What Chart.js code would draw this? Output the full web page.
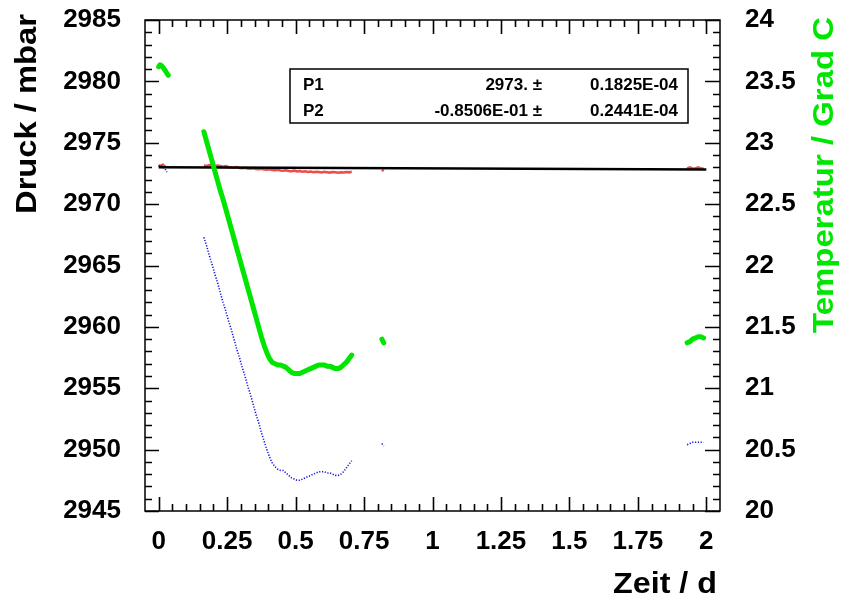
<!DOCTYPE html>
<html>
<head>
<meta charset="utf-8">
<script src="https://cdn.jsdelivr.net/npm/chart.js@4.4.1/dist/chart.umd.min.js"></script>
<style>
html,body{margin:0;padding:0;background:#fff;}
#wrap{width:845px;height:599px;}
</style>
</head>
<body>
<div id="wrap"><canvas id="c" width="845" height="599"></canvas></div>
<script>
// ---------- data ----------
const time = [
  0.000, 0.005, 0.010, 0.015, 0.020, 0.025, 0.030, 0.035,
  0.100,
  0.165, 0.175, 0.185, 0.195, 0.205, 0.215, 0.225, 0.235, 0.245, 0.255,
  0.265, 0.275, 0.285, 0.295, 0.305, 0.315, 0.325, 0.335, 0.345, 0.355,
  0.365, 0.375, 0.385, 0.395, 0.405, 0.415, 0.425, 0.435, 0.445, 0.455,
  0.465, 0.475, 0.485, 0.495, 0.505, 0.515, 0.525, 0.535, 0.545, 0.555,
  0.565, 0.575, 0.585, 0.595, 0.605, 0.615, 0.625, 0.635, 0.645, 0.655,
  0.665, 0.675, 0.685, 0.695, 0.705,
  0.760,
  0.815, 0.822,
  1.500,
  1.930, 1.940, 1.950, 1.960, 1.970, 1.980, 1.990
];
const pressureCorrected = [
  2973.05, 2973.15, 2973.10, 2973.20, 2973.10, 2973.05, null, null,
  null,
  2973.15, 2973.10, 2973.18, 2973.12, 2973.08, 2973.14, 2973.10, 2973.05, 2973.09, 2973.03,
  2973.00, 2972.98, 2973.02, 2972.95, 2972.92, 2972.96, 2972.90, 2972.88, 2972.93, 2972.86,
  2972.84, 2972.88, 2972.82, 2972.80, 2972.85, 2972.78, 2972.76, 2972.80, 2972.74, 2972.72,
  2972.76, 2972.70, 2972.68, 2972.73, 2972.66, 2972.70, 2972.64, 2972.68, 2972.62, 2972.66,
  2972.60, 2972.64, 2972.62, 2972.58, 2972.63, 2972.60, 2972.57, 2972.62, 2972.59, 2972.56,
  2972.60, 2972.58, 2972.62, 2972.59, 2972.63,
  null,
  2972.80, 2972.70,
  null,
  2972.90, 2973.00, 2972.90, 2972.90, 2973.00, 2972.90, 2972.90
];
const pressureRaw = [
  2973.10, 2973.20, 2973.10, 2973.00, 2972.90, 2972.80, 2972.60, null,
  null,
  2967.3, 2966.6, 2965.8, 2965.1, 2964.3, 2963.6, 2962.8, 2962.0, 2961.3, 2960.5,
  2959.8, 2959.0, 2958.2, 2957.5, 2956.7, 2956.0, 2955.2, 2954.5, 2953.7, 2952.9,
  2952.2, 2951.4, 2950.7, 2950.0, 2949.4, 2948.9, 2948.6, 2948.4, 2948.3, 2948.3,
  2948.1, 2947.9, 2947.7, 2947.6, 2947.5, 2947.5, 2947.6, 2947.7, 2947.8, 2947.9,
  2948.0, 2948.1, 2948.2, 2948.2, 2948.2, 2948.1, 2948.1, 2948.0, 2947.9, 2947.9,
  2948.0, 2948.2, 2948.5, 2948.8, 2949.1,
  null,
  2950.5, 2950.3,
  null,
  2950.4, 2950.5, 2950.6, 2950.6, 2950.6, 2950.6, 2950.6
];
const temperature = [
  23.620, 23.635, 23.630, 23.615, 23.600, 23.585, 23.565, 23.550,
  null,
  23.09, 23.01, 22.93, 22.85, 22.77, 22.69, 22.61, 22.54, 22.46, 22.38,
  22.30, 22.22, 22.14, 22.06, 21.98, 21.90, 21.82, 21.74, 21.66, 21.58,
  21.50, 21.42, 21.35, 21.29, 21.24, 21.21, 21.20, 21.19, 21.19, 21.18,
  21.17, 21.15, 21.13, 21.12, 21.12, 21.12, 21.13, 21.14, 21.15, 21.16,
  21.17, 21.18, 21.19, 21.19, 21.19, 21.18, 21.18, 21.17, 21.16, 21.16,
  21.17, 21.19, 21.21, 21.24, 21.27,
  null,
  21.40, 21.37,
  null,
  21.37, 21.38, 21.40, 21.41, 21.42, 21.42, 21.41
];
const fitTime = [0, 2];
const fitPressure = [2973.0, 2972.83];

const xTicks = [0, 0.25, 0.5, 0.75, 1, 1.25, 1.5, 1.75, 2];
const xTickLabels = ['0', '0.25', '0.5', '0.75', '1', '1.25', '1.5', '1.75', '2'];
const yTicks = [2945, 2950, 2955, 2960, 2965, 2970, 2975, 2980, 2985];
const yTickLabels = ['2945', '2950', '2955', '2960', '2965', '2970', '2975', '2980', '2985'];
const y2Ticks = [20, 20.5, 21, 21.5, 22, 22.5, 23, 23.5, 24];
const y2TickLabels = ['20', '20.5', '21', '21.5', '22', '22.5', '23', '23.5', '24'];

const fitParamNames = ['P1', 'P2'];
const fitParamValues = ['2973. \u00B1', '-0.8506E-01 \u00B1'];
const fitParamErrors = ['0.1825E-04', '0.2441E-04'];

const xTitle = 'Zeit / d';
const yTitle = 'Druck / mbar';
const y2Title = 'Temperatur / Grad C';

// ---------- helpers ----------
function pts(xs, ys) { return xs.map((x, i) => ({ x: x, y: ys[i] })); }
const GREEN = 'rgb(0,230,0)';
const FONT = '"Liberation Sans", Arial, Helvetica, sans-serif';

const framePlugin = {
  id: 'frame',
  afterDatasetsDraw(chart) {
    const ctx = chart.ctx;
    const a = chart.chartArea;
    const sx = chart.scales.x, sy = chart.scales.y, sy2 = chart.scales.y2;
    ctx.save();
    ctx.strokeStyle = '#000';
    ctx.lineWidth = 1.5;
    ctx.strokeRect(a.left, a.top, a.right - a.left, a.bottom - a.top);
    ctx.lineWidth = 1.6;
    ctx.beginPath();
    for (let k = 0; k <= 40; k++) {
      const v = k * 0.05;
      const px = Math.round(sx.getPixelForValue(v)) + 0.5;
      const len = (k % 5 === 0) ? 14 : 7;
      ctx.moveTo(px, a.bottom); ctx.lineTo(px, a.bottom - len);
      ctx.moveTo(px, a.top); ctx.lineTo(px, a.top + len);
    }
    for (let v = 2945; v <= 2985; v++) {
      const py = Math.round(sy.getPixelForValue(v)) + 0.5;
      const len = (v % 5 === 0) ? 14 : 7;
      ctx.moveTo(a.left, py); ctx.lineTo(a.left + len, py);
    }
    for (let k = 0; k <= 40; k++) {
      const v = 20 + k * 0.1;
      const py = Math.round(sy2.getPixelForValue(v)) + 0.5;
      const len = (k % 5 === 0) ? 15 : 7;
      ctx.moveTo(a.right, py); ctx.lineTo(a.right - len, py);
    }
    ctx.stroke();

    // fit-result box
    ctx.fillStyle = '#fff';
    ctx.fillRect(290, 69, 398, 54);
    ctx.lineWidth = 1.5;
    ctx.strokeRect(290, 69, 398, 54);
    ctx.fillStyle = '#000';
    ctx.font = 'bold 17px ' + FONT;
    ctx.textBaseline = 'middle';
    const rows = [85, 111];
    for (let i = 0; i < fitParamNames.length; i++) {
      ctx.textAlign = 'left';
      ctx.fillText(fitParamNames[i], 303, rows[i]);
      ctx.textAlign = 'right';
      ctx.fillText(fitParamValues[i], 542, rows[i]);
      ctx.fillText(fitParamErrors[i], 678, rows[i]);
    }

    function stretched(text, font, x, y, rot, align, targetLen, color) {
      ctx.save();
      ctx.font = font;
      ctx.fillStyle = color;
      ctx.textAlign = align;
      ctx.textBaseline = 'alphabetic';
      const w = ctx.measureText(text).width;
      ctx.translate(x, y);
      ctx.rotate(rot);
      ctx.scale(targetLen / w, 1);
      ctx.fillText(text, 0, 0);
      ctx.restore();
    }
    stretched(yTitle, 'bold 29px ' + FONT, 36, 14, -Math.PI / 2, 'right', 200, '#000');
    stretched(y2Title, 'bold 29px ' + FONT, 833, 17, -Math.PI / 2, 'right', 316, GREEN);
    stretched(xTitle, 'bold 29px ' + FONT, 717, 593, 0, 'right', 104, '#000');
    ctx.restore();
  }
};

const tickFont = { family: FONT, size: 26, weight: 'bold' };

function fixVertical(width) {
  return function (s) { s.width = width; s.paddingTop = 0; s.paddingBottom = 0; };
}

new Chart(document.getElementById('c'), {
  type: 'line',
  data: {
    datasets: [
      {
        label: 'Temperatur', data: pts(time, temperature), yAxisID: 'y2',
        borderColor: GREEN, borderWidth: 5, pointRadius: 0, spanGaps: false,
        borderCapStyle: 'round', borderJoinStyle: 'round', order: 1
      },
      {
        label: 'Fit', data: pts(fitTime, fitPressure), yAxisID: 'y',
        borderColor: '#000', borderWidth: 2.5, pointRadius: 0, order: 2
      },
      {
        label: 'Druck', data: pts(time, pressureRaw), yAxisID: 'y',
        borderColor: 'rgb(20,20,225)', borderWidth: 1.6, borderDash: [1.2, 1.6],
        pointRadius: 0, spanGaps: false, order: 3
      },
      {
        label: 'Druck korrigiert', data: pts(time, pressureCorrected), yAxisID: 'y',
        borderColor: 'rgba(235,30,30,0.8)', borderWidth: 2.6,
        pointRadius: 0, spanGaps: false, order: 4
      }
    ]
  },
  options: {
    responsive: false,
    animation: false,
    parsing: true,
    layout: { padding: { top: 20, left: 0, right: 0, bottom: 0 } },
    plugins: { legend: { display: false }, tooltip: { enabled: false } },
    elements: { line: { tension: 0 } },
    scales: {
      x: {
        type: 'linear', min: -0.05, max: 2.05,
        afterBuildTicks(s) { s.ticks = xTicks.map(v => ({ value: v })); },
        afterFit(s) { s.height = 88; s.paddingLeft = 0; s.paddingRight = 0; },
        grid: { display: false, drawTicks: false },
        border: { display: false },
        ticks: {
          autoSkip: false, maxRotation: 0, padding: 15, color: '#000', font: tickFont,
          callback(v) { const i = xTicks.indexOf(v); return i >= 0 ? xTickLabels[i] : ''; }
        }
      },
      y: {
        type: 'linear', position: 'left', min: 2945, max: 2985,
        afterBuildTicks(s) { s.ticks = yTicks.map(v => ({ value: v })); },
        afterFit: fixVertical(145),
        grid: { display: false, drawTicks: false },
        border: { display: false },
        ticks: {
          padding: 24, color: '#000', font: tickFont,
          callback(v) { const i = yTicks.indexOf(v); return i >= 0 ? yTickLabels[i] : ''; }
        }
      },
      y2: {
        type: 'linear', position: 'right', min: 20, max: 24,
        afterBuildTicks(s) { s.ticks = y2Ticks.map(v => ({ value: v })); },
        afterFit: fixVertical(125),
        grid: { display: false, drawTicks: false },
        border: { display: false },
        ticks: {
          padding: 25, color: '#000', font: tickFont,
          callback(v) { const i = y2Ticks.indexOf(v); return i >= 0 ? y2TickLabels[i] : ''; }
        }
      }
    }
  },
  plugins: [framePlugin]
});
</script>
</body>
</html>
